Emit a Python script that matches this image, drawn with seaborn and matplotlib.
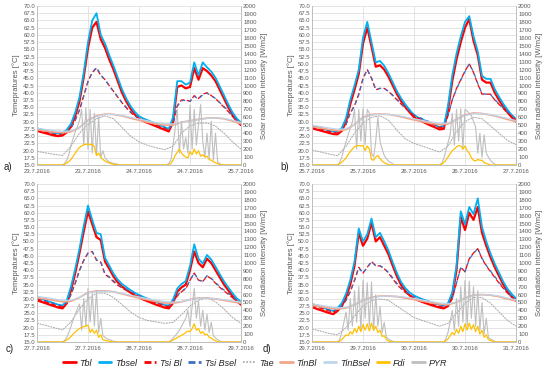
import matplotlib.pyplot as plt
import seaborn as sns
from matplotlib.lines import Line2D

# time axes (hours from start of each 2-day window)
hours = list(range(49))
hours2 = list(range(0, 49, 2))
halfhours = [i * 0.5 for i in range(97)]

# ---------------- panel a) 23.7 - 25.7 ----------------
a_ticks = ["23.7.2016", "23.7.2016", "24.7.2016", "24.7.2016", "25.7.2016"]
a_tbl = [26.8, 26.4, 26.0, 25.6, 25.2, 25.0, 25.2, 26.3, 28.3, 32.0,
         37.0, 45.5, 55.5, 62.5, 64.5, 58.5, 55.5, 51.5, 48.0, 44.0,
         40.0, 37.0, 34.5, 32.5, 31.0, 30.2, 29.6, 29.0, 28.4, 27.8,
         27.2, 26.6, 30.0, 42.0, 42.5, 41.5, 42.0, 48.5, 44.5, 48.5,
         47.5, 46.0, 44.0, 41.0, 38.0, 35.0, 32.3, 30.2, 28.8]
a_tbsel = [27.7, 27.3, 26.9, 26.5, 26.1, 25.9, 26.1, 27.2, 29.3, 33.2,
           38.5, 47.0, 57.5, 65.0, 67.5, 60.0, 57.0, 53.0, 49.3, 45.2,
           41.2, 38.0, 35.4, 33.4, 31.9, 31.1, 30.5, 29.9, 29.3, 28.7,
           28.1, 27.5, 31.5, 44.0, 44.0, 42.8, 43.5, 50.5, 46.0, 50.5,
           48.8, 47.3, 45.2, 42.2, 39.1, 36.0, 33.2, 31.1, 29.7]
a_tsibl = [27.2, 26.8, 26.4, 26.0, 25.6, 25.4, 25.5, 26.3, 27.8, 30.5,
           34.0, 39.0, 44.0, 47.0, 48.5, 46.0, 44.5, 42.5, 40.5, 38.5,
           36.5, 34.8, 33.2, 32.0, 31.1, 30.4, 29.8, 29.3, 28.8, 28.2,
           27.6, 27.1, 29.0, 35.5, 37.5, 37.5, 37.0, 39.0, 38.0, 39.5,
           40.0, 39.0, 38.0, 36.5, 35.0, 33.5, 31.8, 30.3, 29.2]
a_tsibsel = [27.6, 27.2, 26.8, 26.4, 26.0, 25.8, 25.9, 26.6, 28.0, 30.6,
             34.0, 38.8, 43.8, 47.0, 48.8, 46.2, 44.5, 42.4, 40.4, 38.5,
             36.6, 35.0, 33.5, 32.3, 31.5, 30.8, 30.2, 29.7, 29.2, 28.6,
             28.0, 27.5, 29.2, 35.3, 37.3, 37.3, 37.0, 38.8, 37.8, 39.3,
             39.8, 39.0, 38.0, 36.6, 35.2, 33.8, 32.1, 30.7, 29.6]
a_tae = [19.7, 19.2, 18.7, 18.3, 21.5, 26.0, 29.0, 31.0, 32.0, 31.0, 28.0, 25.0, 23.0,
         21.8, 21.0, 20.3, 21.5, 26.0, 28.5, 29.5, 29.5, 28.5, 26.0, 23.0, 20.5]
a_tinbl = [27.2, 26.8, 26.4, 26.2, 26.5, 28.0, 30.5, 32.0, 32.6, 32.5, 32.0, 31.2, 30.5,
           29.8, 29.2, 28.8, 28.8, 29.8, 30.3, 30.8, 31.2, 31.3, 31.0, 30.2, 29.3]
a_tinbsel = [27.7, 27.3, 26.9, 26.7, 26.8, 28.0, 30.3, 31.8, 32.5, 32.5, 32.1, 31.5, 30.9,
             30.3, 29.7, 29.3, 29.2, 29.8, 30.2, 30.7, 31.1, 31.3, 31.1, 30.5, 29.7]
# half-hourly solar values, 6:00-20:00 and 30:00-44:00
a_pyr1 = [0, 20, 60, 130, 250, 330, 420, 480, 560, 700, 250, 720, 200, 700, 150,
          650, 120, 600, 100, 180, 90, 60, 40, 30, 20, 15, 10, 0, 0]
a_pyr2 = [0, 0, 20, 60, 250, 450, 700, 150, 550, 200, 350, 150, 750, 200, 700,
          250, 500, 760, 300, 100, 400, 80, 550, 60, 400, 40, 20, 0, 0]
a_fdi1 = [0, 10, 25, 45, 70, 110, 150, 190, 220, 240, 255, 260, 265, 255, 260,
          230, 120, 150, 100, 70, 50, 35, 25, 15, 10, 5, 0, 0, 0]
a_fdi2 = [0, 0, 0, 20, 60, 120, 160, 200, 150, 120, 100, 90, 170, 130, 200,
          140, 180, 110, 130, 100, 110, 70, 60, 40, 30, 15, 5, 0, 0]

# ---------------- panel b) 25.7 - 27.7 ----------------
b_ticks = ["25.7.2016", "25.7.2016", "26.7.2016", "26.7.2016", "27.7.2016"]
b_tbl = [27.7, 27.3, 26.9, 26.5, 26.1, 25.7, 25.6, 26.8, 30.0, 36.0,
         41.0, 46.5, 57.0, 62.5, 56.0, 49.0, 49.5, 48.0, 45.5, 42.5,
         39.5, 37.0, 35.0, 33.2, 31.5, 30.6, 30.0, 29.3, 28.6, 28.0,
         27.3, 27.5, 34.0, 44.0, 51.5, 57.5, 62.5, 65.5, 58.0, 53.0,
         44.5, 43.5, 43.5, 40.0, 37.5, 35.2, 33.2, 31.5, 30.0]
b_tbsel = [28.6, 28.2, 27.8, 27.4, 27.0, 26.6, 26.5, 27.8, 31.2, 37.5,
           42.5, 48.0, 59.0, 64.5, 57.5, 50.5, 51.0, 49.3, 46.7, 43.6,
           40.5, 38.0, 35.9, 34.0, 32.3, 31.4, 30.8, 30.1, 29.4, 28.8,
           28.1, 28.4, 35.5, 46.0, 53.5, 59.5, 64.5, 66.5, 59.5, 54.3,
           45.8, 44.8, 44.8, 41.2, 38.6, 36.2, 34.1, 32.3, 30.8]
b_tsibl = [28.2, 27.8, 27.4, 27.0, 26.6, 26.2, 26.1, 27.0, 29.0, 33.0,
           35.5, 39.5, 45.0, 48.0, 45.0, 41.0, 41.5, 41.5, 40.5, 39.0,
           37.5, 36.0, 34.6, 33.3, 32.0, 31.2, 30.6, 30.0, 29.3, 28.7,
           28.0, 28.0, 32.0, 37.5, 41.5, 44.5, 47.5, 50.0, 47.0, 43.0,
           39.5, 39.5, 39.5, 37.5, 36.0, 34.5, 33.0, 31.8, 30.6]
b_tsibsel = [28.6, 28.2, 27.8, 27.4, 27.0, 26.6, 26.5, 27.3, 29.2, 33.0,
             35.4, 39.3, 44.8, 48.0, 45.2, 41.2, 41.5, 41.4, 40.5, 39.1,
             37.7, 36.3, 34.9, 33.7, 32.4, 31.6, 31.0, 30.4, 29.7, 29.1,
             28.4, 28.4, 32.2, 37.5, 41.3, 44.3, 47.3, 50.0, 47.2, 43.2,
             39.7, 39.5, 39.4, 37.6, 36.2, 34.8, 33.4, 32.2, 31.0]
b_tae = [20.2, 19.5, 18.8, 18.2, 21.5, 26.0, 29.5, 31.5, 32.0, 30.5, 27.0, 24.0, 22.5,
         21.5, 20.5, 19.5, 21.5, 26.5, 30.0, 31.5, 31.0, 28.5, 26.0, 23.5, 22.0]
b_tinbl = [28.3, 27.8, 27.3, 26.9, 27.2, 29.0, 31.5, 32.5, 32.6, 32.5, 32.0, 31.3, 30.6,
           30.0, 29.4, 29.0, 29.2, 30.8, 32.3, 33.0, 32.8, 32.3, 31.6, 30.8, 30.0]
b_tinbsel = [28.8, 28.3, 27.8, 27.4, 27.5, 29.0, 31.3, 32.3, 32.5, 32.5, 32.1, 31.6, 31.0,
             30.4, 29.9, 29.5, 29.5, 30.8, 32.1, 32.8, 32.8, 32.4, 31.8, 31.1, 30.4]
b_pyr1 = [0, 30, 100, 200, 290, 380, 460, 540, 700, 200, 700, 300, 710, 250, 700,
          650, 150, 100, 300, 600, 300, 200, 120, 80, 50, 30, 15, 0, 0]
b_pyr2 = [0, 20, 80, 180, 280, 380, 650, 250, 700, 300, 710, 200, 700, 680, 650,
          620, 550, 480, 150, 400, 100, 380, 150, 100, 60, 30, 10, 0, 0]
b_fdi1 = [0, 15, 35, 60, 90, 130, 170, 200, 230, 240, 245, 240, 245, 180, 240,
          200, 70, 60, 100, 120, 80, 50, 30, 15, 5, 0, 0, 0, 0]
b_fdi2 = [0, 10, 30, 60, 100, 140, 180, 200, 230, 245, 240, 200, 240, 180, 150,
          90, 60, 50, 70, 60, 60, 30, 20, 10, 0, 0, 0, 0, 0]

# ---------------- panel c) 27.7 - 29.7 ----------------
c_ticks = ["27.7.2016", "27.7.2016", "28.7.2016", "28.7.2016", "29.7.2016"]
c_tbl = [29.5, 29.0, 28.5, 28.0, 27.5, 27.0, 26.7, 28.5, 33.0, 39.0,
         46.0, 53.5, 60.5, 56.0, 51.5, 50.5, 43.0, 40.5, 37.8, 35.8,
         34.3, 33.2, 32.2, 31.2, 30.5, 29.8, 29.2, 28.6, 28.0, 27.5,
         27.0, 26.7, 28.5, 32.5, 34.0, 35.0, 40.0, 46.5, 42.5, 41.0,
         44.0, 42.5, 40.0, 37.5, 35.0, 33.0, 31.0, 29.2, 28.0]
c_tbsel = [30.5, 30.0, 29.5, 29.0, 28.5, 28.0, 27.7, 29.5, 34.3, 40.5,
           47.5, 55.5, 62.5, 57.5, 53.0, 52.5, 44.3, 41.6, 38.8, 36.7,
           35.2, 34.1, 33.1, 32.1, 31.4, 30.7, 30.1, 29.5, 28.9, 28.4,
           27.9, 27.6, 29.8, 33.6, 35.2, 36.2, 41.5, 49.0, 44.0, 42.3,
           45.3, 43.7, 41.2, 38.6, 36.1, 34.0, 32.0, 30.2, 29.0]
c_tsibl = [30.0, 29.5, 29.0, 28.5, 28.0, 27.5, 27.2, 28.5, 31.5, 35.5,
           40.0, 43.5, 46.0, 46.5, 43.5, 42.8, 38.5, 37.5, 36.0, 34.8,
           33.8, 33.0, 32.2, 31.5, 30.8, 30.2, 29.6, 29.1, 28.6, 28.1,
           27.6, 27.3, 29.0, 31.0, 32.5, 33.5, 36.5, 39.0, 36.5, 36.0,
           38.0, 37.0, 35.5, 34.0, 32.8, 31.6, 30.4, 29.2, 28.2]
c_tsibsel = [30.4, 29.9, 29.4, 28.9, 28.4, 27.9, 27.6, 28.7, 31.6, 35.5,
             39.8, 43.3, 45.9, 46.5, 43.6, 42.9, 38.7, 37.7, 36.3, 35.1,
             34.2, 33.4, 32.6, 31.9, 31.2, 30.6, 30.0, 29.5, 29.0, 28.5,
             28.0, 27.7, 29.2, 31.2, 32.7, 33.7, 36.5, 39.0, 36.6, 36.2,
             38.1, 37.2, 35.7, 34.3, 33.1, 32.0, 30.8, 29.6, 28.6]
c_tae = [21.5, 20.8, 20.0, 19.2, 22.0, 26.5, 30.0, 32.0, 32.0, 30.5, 28.0, 25.5, 23.5,
         22.5, 22.0, 21.5, 21.8, 24.5, 27.5, 29.5, 30.5, 29.0, 26.5, 23.5, 21.5]
c_tinbl = [30.4, 30.0, 29.5, 29.0, 29.2, 30.5, 32.2, 32.8, 32.8, 32.5, 31.8, 31.0, 30.3,
           29.7, 29.1, 28.6, 28.5, 29.0, 29.8, 30.3, 30.3, 30.0, 29.5, 29.0, 28.5]
c_tinbsel = [30.9, 30.5, 30.0, 29.5, 29.5, 30.5, 32.0, 32.6, 32.7, 32.5, 31.9, 31.3, 30.7,
             30.1, 29.6, 29.1, 28.9, 29.1, 29.7, 30.2, 30.3, 30.1, 29.7, 29.3, 28.9]
c_pyr1 = [0, 20, 60, 120, 200, 280, 350, 420, 480, 150, 550, 200, 680, 250, 620,
          200, 650, 120, 300, 80, 60, 40, 30, 20, 10, 5, 0, 0, 0]
c_pyr2 = [0, 0, 0, 20, 50, 80, 110, 150, 200, 250, 300, 400, 200, 450, 680,
          300, 520, 200, 400, 150, 350, 120, 250, 80, 50, 30, 15, 0, 0]
c_fdi1 = [0, 10, 25, 45, 70, 100, 125, 150, 170, 185, 195, 200, 215, 120, 160,
          110, 150, 60, 90, 30, 20, 15, 10, 5, 0, 0, 0, 0, 0]
c_fdi2 = [0, 0, 0, 10, 25, 40, 55, 70, 85, 100, 120, 140, 130, 170, 230,
          150, 170, 110, 130, 90, 100, 60, 50, 30, 15, 5, 0, 0, 0]

# ---------------- panel d) 29.7 - 31.7 ----------------
d_ticks = ["29.7.2016", "29.7.2016", "30.7.2016", "30.7.2016", "31.7.2016"]
d_tbl = [27.2, 26.6, 26.1, 25.6, 25.1, 24.7, 25.8, 27.5, 30.5, 35.0,
         41.5, 53.0, 48.5, 51.0, 56.5, 50.0, 51.5, 48.5, 45.5, 41.5,
         37.8, 34.8, 32.7, 31.2, 30.2, 29.5, 28.9, 28.4, 27.9, 27.4,
         27.0, 26.7, 27.5, 31.0, 40.0, 58.5, 54.0, 60.0, 57.5, 62.0,
         53.0, 48.5, 44.5, 41.0, 38.0, 35.0, 32.5, 30.8, 29.3]
d_tbsel = [28.3, 27.7, 27.2, 26.7, 26.2, 25.8, 26.8, 28.5, 31.8, 36.5,
           43.0, 54.5, 50.0, 52.5, 58.0, 51.5, 53.0, 50.0, 46.8, 42.7,
           38.9, 35.8, 33.7, 32.2, 31.2, 30.5, 29.9, 29.4, 28.9, 28.4,
           28.0, 27.7, 28.5, 32.3, 41.5, 60.5, 56.0, 62.0, 59.5, 65.0,
           55.0, 50.0, 45.8, 42.2, 39.1, 36.0, 33.5, 31.7, 30.2]
d_tsibl = [27.8, 27.3, 26.8, 26.3, 25.8, 25.4, 26.0, 27.3, 29.5, 32.5,
           36.5, 41.0, 39.0, 41.0, 43.0, 41.5, 41.5, 40.5, 39.0, 37.0,
           35.0, 33.5, 32.2, 31.2, 30.4, 29.8, 29.3, 28.8, 28.3, 27.8,
           27.4, 27.1, 27.6, 30.0, 35.5, 41.0, 39.5, 44.0, 46.0, 47.5,
           44.0, 41.5, 39.5, 37.5, 35.5, 33.7, 32.0, 30.6, 29.4]
d_tsibsel = [28.2, 27.7, 27.2, 26.7, 26.2, 25.8, 26.3, 27.5, 29.6, 32.5,
             36.4, 40.8, 39.0, 40.9, 43.0, 41.6, 41.6, 40.6, 39.2, 37.3,
             35.4, 33.9, 32.6, 31.6, 30.8, 30.2, 29.7, 29.2, 28.7, 28.2,
             27.8, 27.5, 27.9, 30.2, 35.5, 40.8, 39.4, 43.8, 45.8, 47.5,
             44.2, 41.7, 39.7, 37.8, 35.8, 34.0, 32.4, 31.0, 29.8]
d_tae = [19.5, 18.8, 18.0, 17.5, 20.0, 24.0, 27.5, 29.5, 30.0, 29.5, 27.5, 25.5, 23.5,
         22.5, 21.5, 20.5, 21.5, 25.0, 28.5, 30.5, 30.5, 28.5, 25.5, 22.5, 20.5]
d_tinbl = [27.8, 27.3, 26.8, 26.5, 26.8, 28.0, 29.5, 30.5, 31.0, 31.0, 30.8, 30.3, 29.8,
           29.2, 28.7, 28.2, 28.0, 28.8, 30.3, 31.3, 31.5, 31.3, 30.8, 30.0, 29.3]
d_tinbsel = [28.3, 27.8, 27.3, 26.9, 27.0, 28.0, 29.4, 30.4, 30.9, 31.0, 30.9, 30.6, 30.2,
             29.6, 29.1, 28.6, 28.3, 28.9, 30.2, 31.2, 31.5, 31.4, 31.0, 30.3, 29.7]
d_pyr1 = [0, 30, 120, 250, 380, 150, 550, 200, 650, 250, 700, 150, 780, 300, 750,
          200, 760, 150, 600, 200, 450, 120, 250, 60, 40, 20, 10, 0, 0]
d_pyr2 = [0, 0, 0, 40, 120, 250, 400, 150, 550, 200, 700, 250, 780, 200, 770,
          300, 700, 200, 650, 150, 500, 100, 300, 60, 40, 20, 10, 0, 0]
d_fdi1 = [0, 10, 30, 60, 90, 80, 130, 100, 170, 120, 200, 130, 220, 150, 230,
          140, 240, 150, 200, 120, 150, 70, 80, 30, 15, 5, 0, 0, 0]
d_fdi2 = [0, 0, 0, 15, 40, 80, 120, 90, 160, 110, 200, 130, 230, 150, 240,
          160, 220, 130, 200, 100, 150, 60, 90, 30, 20, 10, 0, 0, 0]

names = ["Tbl", "Tbsel", "Tsi Bl", "Tsi Bsel", "Tae", "TinBl", "TinBsel", "Fdi", "PYR"]
colors = {"Tbl": "#FF0000", "Tbsel": "#00B0F0", "Tsi Bl": "#FF0000", "Tsi Bsel": "#3A6FC4",
          "Tae": "#A6A6A6", "TinBl": "#F4A58A", "TinBsel": "#BDD7EE",
          "Fdi": "#FFC000", "PYR": "#BFBFBF"}
GRID = "#D9D9D9"
TXT = "#595959"


def full_day(day1, day2):
    # nights are zero radiation
    return [0] * 12 + day1 + [0] * 19 + day2 + [0] * 8


def draw_panel(fig, rect, tag, tagpos, ticks, tbl, tbsel, tsibl, tsibsel,
               tae, tinbl, tinbsel, fdi, pyr):
    ax = fig.add_axes(rect)
    ax2 = ax.twinx()

    sns.lineplot(x=hours, y=tbl, ax=ax, color=colors["Tbl"], lw=1.6)
    sns.lineplot(x=hours, y=tbsel, ax=ax, color=colors["Tbsel"], lw=1.3)
    sns.lineplot(x=hours, y=tsibl, ax=ax, color=colors["Tsi Bl"], lw=0.9, dashes=(4, 2))
    sns.lineplot(x=hours, y=tsibsel, ax=ax, color=colors["Tsi Bsel"], lw=0.9, dashes=(3, 3))
    sns.lineplot(x=hours2, y=tae, ax=ax, color=colors["Tae"], lw=0.7, dashes=(2, 0.8))
    sns.lineplot(x=hours2, y=tinbl, ax=ax, color=colors["TinBl"], lw=1.3)
    sns.lineplot(x=hours2, y=tinbsel, ax=ax, color=colors["TinBsel"], lw=0.9)
    sns.lineplot(x=halfhours, y=pyr, ax=ax2, color=colors["PYR"], lw=0.8)
    sns.lineplot(x=halfhours, y=fdi, ax=ax2, color=colors["Fdi"], lw=0.9)

    ax.set_xlim(0, 48)
    ax.set_ylim(15, 70)
    ax2.set_ylim(0, 2000)
    ax.set_xticks([0, 12, 24, 36, 48])
    ax.set_xticklabels(ticks)
    yt = [15 + 2.5 * i for i in range(23)]
    ax.set_yticks(yt)
    ax.set_yticklabels([f"{v:.1f}" for v in yt])
    ax2.set_yticks(range(0, 2001, 100))
    ax.grid(True, color=GRID, lw=0.5)
    ax.set_axisbelow(True)

    for a in (ax, ax2):
        a.tick_params(length=0, labelsize=4.3, labelcolor=TXT, pad=1.5)
        a.spines["top"].set_visible(False)
        for s in ("left", "right", "bottom"):
            a.spines[s].set_color("#BFBFBF")
            a.spines[s].set_linewidth(0.6)
    ax.tick_params(axis="x", pad=3)

    ax.set_xlabel("")
    ax.set_ylabel("Temepratures [°C]", fontsize=5.5, color=TXT, labelpad=2)
    ax2.set_ylabel("Solar radiation intensity [W/m2]", fontsize=5.5, color=TXT, labelpad=3)
    fig.text(tagpos[0], tagpos[1], tag, fontsize=7, ha="left", va="center", color="#262626")


sns.set_theme(style="white")
plt.rcParams["font.family"] = ["Liberation Sans", "DejaVu Sans"]

fig = plt.figure(figsize=(5.5, 3.71), dpi=100)
W, H = 550, 371


def rect(x0, x1, y0, y1):
    return [x0 / W, 1 - y1 / H, (x1 - x0) / W, (y1 - y0) / H]


draw_panel(fig, rect(37, 241, 6, 165), "a)", (4 / W, 1 - 167 / H), a_ticks,
           a_tbl, a_tbsel, a_tsibl, a_tsibsel, a_tae, a_tinbl, a_tinbsel,
           full_day(a_fdi1, a_fdi2), full_day(a_pyr1, a_pyr2))
draw_panel(fig, rect(312, 516, 6, 165), "b)", (280 / W, 1 - 167 / H), b_ticks,
           b_tbl, b_tbsel, b_tsibl, b_tsibsel, b_tae, b_tinbl, b_tinbsel,
           full_day(b_fdi1, b_fdi2), full_day(b_pyr1, b_pyr2))
draw_panel(fig, rect(37, 241, 184, 342), "c)", (6 / W, 1 - 349 / H), c_ticks,
           c_tbl, c_tbsel, c_tsibl, c_tsibsel, c_tae, c_tinbl, c_tinbsel,
           full_day(c_fdi1, c_fdi2), full_day(c_pyr1, c_pyr2))
draw_panel(fig, rect(312, 516, 184, 342), "d)", (263 / W, 1 - 349 / H), d_ticks,
           d_tbl, d_tbsel, d_tsibl, d_tsibsel, d_tae, d_tinbl, d_tinbsel,
           full_day(d_fdi1, d_fdi2), full_day(d_pyr1, d_pyr2))

styles = {"Tsi Bl": (0, (2.5, 1.2)), "Tsi Bsel": (0, (2.5, 1.2)), "Tae": (0, (1, 1))}
handles = [Line2D([], [], color=colors[n], lw=2.0 if n != "Tae" else 1.2,
                  ls=styles.get(n, "-")) for n in names]
fig.legend(handles, names, loc="center", bbox_to_anchor=(255 / W, 1 - 363 / H),
           ncol=9, frameon=False, prop={"size": 6.5, "style": "italic"},
           handlelength=1.4, handletextpad=0.4, columnspacing=0.75, labelcolor="#262626")

fig.savefig("out.png", dpi=100)
